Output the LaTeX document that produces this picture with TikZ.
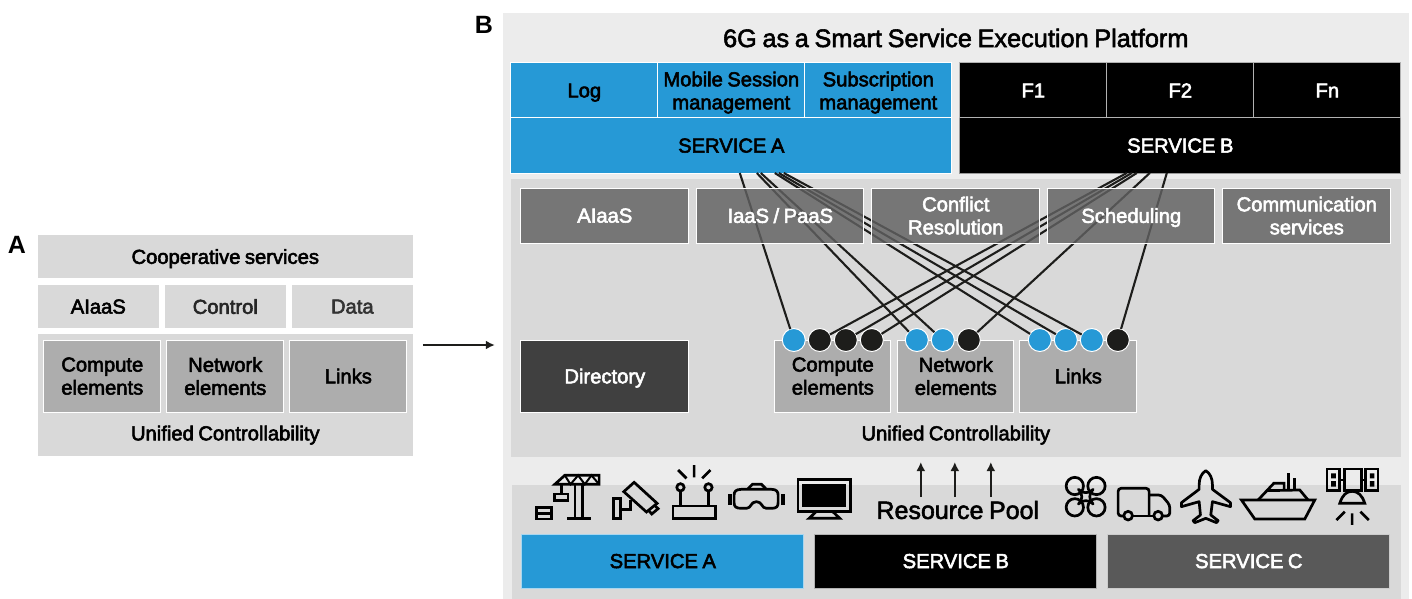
\documentclass[tikz,border=0pt]{standalone}
\usepackage{fontspec}
\setmainfont{Liberation Sans}[WordSpace=0.8]
\definecolor{blueS}{HTML}{2699D6}
\definecolor{ink}{HTML}{1D1D1B}
\definecolor{panelL}{HTML}{ECECEC}
\definecolor{panelD}{HTML}{D9D9D9}
\definecolor{elem}{HTML}{ADADAD}
\newcommand{\heavyink}{\special{pdf:code 2 Tr 0.55 w}}
\newcommand{\panelbox}[7]{%
  \pgfmathsetmacro{\cxx}{(#2+#4)/2}%
  \pgfmathsetmacro{\cyy}{(#3+#5)/2}%
  \pgfmathsetmacro{\wdd}{#4-#2}%
  \pgfmathsetmacro{\htt}{#5-#3}%
  \node[basebox,#6,minimum width=\wdd pt,minimum height=\htt pt] (#1) at (\cxx,\cyy) {#7};%
}
\tikzset{
  basebox/.style={inner sep=0pt,outer sep=0pt,align=center,text depth=0pt,font=\heavyink\fontsize{20.2}{23}\selectfont,text=black},
  plain/.style={fill=panelD},
  light/.style={fill=panelL},
  elembox/.style={fill=elem,draw=white,line width=1pt},
  midbox/.style={fill=black!62,fill opacity=.82,text opacity=1,draw=white,draw opacity=1,line width=1pt,text=white},
  dirbox/.style={fill=black!75,draw=white,line width=1pt,text=white},
  bluebox/.style={fill=blueS,draw=white,line width=1pt},
  blackbox/.style={fill=black,draw=white!70!black,line width=1pt,text=white},
  greybox/.style={fill=black!65,draw=white!80!black,line width=1pt,text=white},
  bdot/.style={circle,fill=blueS,draw=white,line width=1pt,minimum size=23pt,inner sep=0pt,outer sep=0pt},
  kdot/.style={circle,fill=ink,draw=white,line width=1pt,minimum size=23pt,inner sep=0pt,outer sep=0pt},
  wire/.style={draw=ink,line width=2.1pt},
  flow/.style={draw=ink,line width=2.2pt,-{Latex[length=9pt,width=9pt]}},
  icon/.style={draw=black,line width=2.7pt,line join=miter},
  heading/.style={inner sep=0pt,font=\heavyink\fontsize{25}{28}\selectfont,text=black},
  titling/.style={inner sep=0pt,font=\heavyink\fontsize{25.3}{28}\selectfont,text=black},
  letter/.style={inner sep=0pt,font=\fontsize{25}{28}\selectfont\bfseries,text=black},
}
\usetikzlibrary{arrows.meta}
\begin{document}
\begin{tikzpicture}[x=1pt,y=-1pt]
\useasboundingbox (0.2,0) rectangle (1412.2,599);
% --- A
\node[letter] (la) at (17,245) {A};
\panelbox{coop}{38}{235}{413}{278}{plain}{Cooperative services}
\panelbox{aaia}{38}{285}{159}{328}{plain}{AIaaS}
\panelbox{actl}{165}{285}{286}{328}{plain,text=black!85}{Control}
\panelbox{adat}{292}{285}{413}{328}{plain,text=black!80}{Data}
\panelbox{apan}{38}{334}{413}{456}{plain}{}
\panelbox{acom}{44}{340}{161}{412}{elembox}{Compute\\elements}
\panelbox{anet}{167}{340}{284}{412}{elembox}{Network\\elements}
\panelbox{alnk}{290}{340}{407}{412}{elembox}{Links}
\node[basebox] (auni) at (225.5,433) {Unified Controllability};
% arrow between parts
\coordinate (arA) at (423,345);
\coordinate (arB) at (495,345);
\draw[flow] (arA) -- (arB);
% --- B panels
\node[letter] (lb) at (484,25) {B};
\panelbox{bout}{503}{13}{1409}{599}{light}{}
\panelbox{blow}{512}{485}{1401}{599}{plain}{}
\panelbox{bmid}{511}{179}{1401}{457}{plain}{}
\node[titling] (title) at (956,38) {6G as a Smart Service Execution Platform};
\panelbox{sa}{511}{118}{952}{173}{bluebox}{SERVICE A}
\panelbox{slog}{511}{63}{658}{118}{bluebox}{Log}
\panelbox{smob}{658}{63}{805}{118}{bluebox}{Mobile Session\\management}
\panelbox{ssub}{805}{63}{952}{118}{bluebox}{Subscription\\management}
\panelbox{sb}{960}{118}{1401}{173}{blackbox,draw=white!60!black}{SERVICE B}
\panelbox{ff1}{960}{63}{1107}{118}{blackbox}{F1}
\panelbox{ff2}{1107}{63}{1254}{118}{blackbox}{F2}
\panelbox{ffn}{1254}{63}{1401}{118}{blackbox}{Fn}
% elements
\panelbox{dir}{521}{340}{689}{412}{dirbox}{Directory}
\panelbox{bcom}{775}{340}{891}{412}{elembox}{Compute\\elements}
\panelbox{bnet}{898}{340}{1014}{412}{elembox}{Network\\elements}
\panelbox{blnk}{1020}{340}{1137}{412}{elembox}{Links}
\node[basebox] (buni) at (956,433) {Unified Controllability};
% dots
\node[bdot] (d1) at (794,340) {};
\node[kdot] (d2) at (820,340) {};
\node[kdot] (d3) at (846,340) {};
\node[kdot] (d4) at (872,340) {};
\node[bdot] (d5) at (917,340) {};
\node[bdot] (d6) at (943,340) {};
\node[kdot] (d7) at (969,340) {};
\node[bdot] (d8) at (1040,340) {};
\node[bdot] (d9) at (1066,340) {};
\node[bdot] (d10) at (1092,340) {};
\node[kdot] (d11) at (1118,340) {};
% wire origins on services
\coordinate (a1) at (740,173);
\coordinate (a5) at (757,173);
\coordinate (a6) at (761,173);
\coordinate (a8) at (775,173);
\coordinate (a9) at (779,173);
\coordinate (a10) at (784,173);
\coordinate (b2) at (1127,173);
\coordinate (b3) at (1132,173);
\coordinate (b4) at (1137,173);
\coordinate (b7) at (1150,173);
\coordinate (b11) at (1167,173);
\foreach \s/\t in {a1/d1,a5/d5,a6/d6,a8/d8,a9/d9,a10/d10,b2/d2,b3/d3,b4/d4,b7/d7,b11/d11}
  \draw[wire] (\s) -- (\t);
% mid boxes (translucent over wires)
\panelbox{maia}{521}{188}{689}{243}{midbox}{AIaaS}
\panelbox{miaa}{697}{188}{864}{243}{midbox}{IaaS / PaaS}
\panelbox{mcon}{872}{188}{1040}{243}{midbox}{Conflict\\Resolution}
\panelbox{msch}{1048}{188}{1215}{243}{midbox}{Scheduling}
\panelbox{mcom}{1223}{188}{1391}{243}{midbox}{Communication\\services}
% bottom services
\panelbox{ba}{522}{534}{804}{588}{bluebox,draw=white!60!blueS}{SERVICE A}
\panelbox{bb}{815}{534}{1097}{588}{blackbox}{SERVICE B}
\panelbox{bc}{1108}{534}{1390}{588}{greybox}{SERVICE C}
\node[heading] (rp) at (958,510) {Resource Pool};
\coordinate (p1) at (921,497); \coordinate (q1) at (921,462);
\coordinate (p2) at (955,497); \coordinate (q2) at (955,462);
\coordinate (p3) at (991,497); \coordinate (q3) at (991,462);
\draw[flow] (p1) -- (q1);
\draw[flow] (p2) -- (q2);
\draw[flow] (p3) -- (q3);
% --- icons, left group (coordinates in 3x crop units)
\begin{scope}[shift={(500,450)},x=0.3333pt,y=-0.3333pt,icon]
  % crane
  \draw (110,172) rectangle (155,207) (110,190) -- (155,190);
  \draw (165,132) rectangle (205,152) (185,132) -- (185,103);
  \draw (165,103) -- (195,76) -- (298,76) -- (298,103) -- cycle;
  \draw[line width=2pt] (195,76) -- (212,103) -- (235,76) -- (255,103) -- (275,76) -- (298,103);
  \draw (226,103) -- (226,205) (249,103) -- (249,205) (203,205) -- (275,205);
  % camera
  \draw (342,145) rectangle (362,205) (362,178) -- (392,178) -- (392,150);
  \draw (403,97) -- (472,160) -- (440,186) -- (372,125) -- cycle;
  \draw (445,180) -- (456,192) -- (475,176) -- (463,165);
  % router
  \draw (520,168) rectangle (648,205);
  \draw (542,112) circle (11) (626,112) circle (11);
  \draw (542,123) -- (542,168) (626,123) -- (626,168);
  \draw (583,45) -- (583,82) (535,60) -- (560,85) (632,60) -- (607,85);
  % goggles
  \draw[line join=round] (725,118) -- (815,118) .. controls (830,118) and (835,125) .. (835,135) -- (835,158) .. controls (835,170) and (830,175) .. (815,175) -- (800,175) .. controls (785,175) and (788,155) .. (770,155) .. controls (752,155) and (755,175) .. (740,175) -- (725,175) .. controls (708,175) and (703,170) .. (703,158) -- (703,135) .. controls (703,125) and (708,118) .. (725,118) -- cycle;
  \draw (745,116) -- (758,103) -- (785,103) -- (798,116);
  \draw[line width=4pt] (690,133) -- (690,165) (850,133) -- (850,165);
  % monitor
  \draw (895,88) rectangle (1052,185);
  \fill[black] (908,102) rectangle (1038,172);
  \draw (948,186) -- (928,205) -- (1020,205) -- (1000,186);
\end{scope}
\begin{scope}[shift={(950,450)},x=0.3333pt,y=-0.3333pt,icon]
  % drone
  \draw (375,108) circle (26) (440,108) circle (26) (375,172) circle (26) (440,172) circle (26);
  \draw[fill=panelD,line join=round] (386,118) .. controls (396,126) and (400,128) .. (408,128) .. controls (416,128) and (420,126) .. (430,118) .. controls (422,128) and (420,133) .. (420,140) .. controls (420,147) and (422,152) .. (430,162) .. controls (420,154) and (416,152) .. (408,152) .. controls (400,152) and (396,154) .. (386,162) .. controls (394,152) and (396,147) .. (396,140) .. controls (396,133) and (394,128) .. (386,118) -- cycle;
  % truck
  \draw[rounded corners=3pt] (520,198) -- (505,198) -- (505,115) -- (598,115) -- (598,198);
  \draw (548,198) -- (612,198);
  \draw[rounded corners=3pt] (598,135) -- (635,135) -- (660,165) -- (660,198) -- (638,198);
  \draw (535,197) circle (13) (625,197) circle (13);
  % plane
  \draw[line join=round] (768,62) .. controls (755,70) and (748,85) .. (748,105) -- (748,118) -- (695,158) -- (695,170) -- (748,155) -- (752,195) -- (730,212) -- (735,218) -- (768,205) -- (800,218) -- (805,212) -- (783,195) -- (788,155) -- (842,170) -- (842,158) -- (788,118) -- (788,105) .. controls (788,85) and (781,70) .. (768,62) -- cycle;
  % ship
  \draw (875,150) -- (1095,150) -- (1065,207) -- (915,207) -- cycle;
  \draw (925,150) -- (972,100) -- (1003,100) -- (1003,120);
  \draw (950,122) -- (1050,120) -- (1075,150);
  \draw (1016,70) -- (1016,120) (1035,85) -- (1035,120);
  % satellite
  \draw (1132,57) rectangle (1170,122) (1185,57) rectangle (1235,122) (1248,57) rectangle (1285,122);
  \fill[black] (1144,70) rectangle (1158,85) (1144,93) rectangle (1158,110) (1260,70) rectangle (1274,85) (1260,93) rectangle (1274,110);
  \draw (1170,90) -- (1185,90) (1235,90) -- (1248,90);
  \draw (1170,160) .. controls (1178,135) and (1190,124) .. (1207,124) .. controls (1224,124) and (1237,135) .. (1245,160) -- cycle;
  \draw (1207,190) -- (1207,225) (1160,210) -- (1185,185) (1257,210) -- (1232,185);
\end{scope}
\end{tikzpicture}
\end{document}
